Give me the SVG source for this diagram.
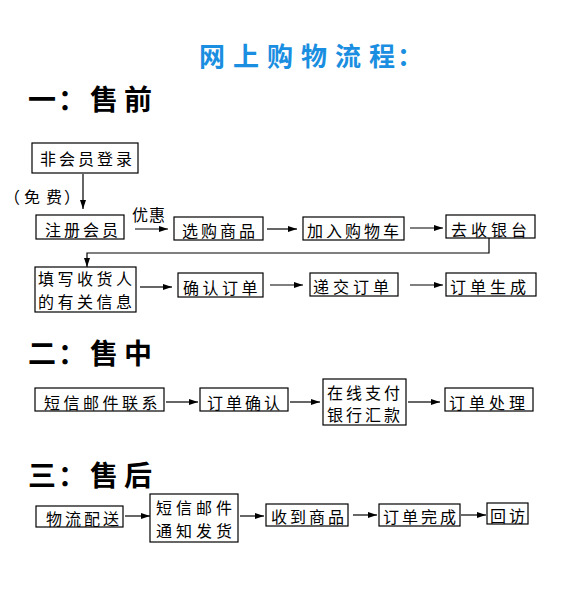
<svg xmlns="http://www.w3.org/2000/svg" width="565" height="592" viewBox="0 0 565 592">
<style>
.bg{fill:#fff}
.box{fill:none;stroke:#000;stroke-width:1.2}
.t{font-family:"Noto Sans CJK SC","Noto Sans",sans-serif;font-size:16px;fill:#000;letter-spacing:3px}
.h{font-family:"Noto Sans CJK SC","Noto Sans",sans-serif;font-size:28px;font-weight:bold;fill:#000}
.title{font-family:"Noto Sans CJK SC","Noto Sans",sans-serif;font-size:26px;font-weight:bold;fill:#1a8ee0}
.c{fill:none;stroke:#000;stroke-width:1.2}
</style>
<defs>
<marker id="ah" markerWidth="9" markerHeight="6" refX="9" refY="3" orient="auto" markerUnits="userSpaceOnUse">
<path d="M0,0 L9,3 L0,6 z" fill="#000"/>
</marker>
</defs>
<rect class="bg" x="0" y="0" width="565" height="592"/>
<g id="titles">
<text class="title" x="199 233 267 301 335 369 397" y="66">网上购物流程：</text>
<text class="h" x="28 58 90 124" y="110">一：售前</text>
<text class="h" x="28 58 90 124" y="364">二：售中</text>
<text class="h" x="28 58 90 124" y="486">三：售后</text>
</g>
<g id="connectors">
<line class="c" x1="83" y1="174" x2="83" y2="209" marker-end="url(#ah)"/>
<line class="c" x1="135" y1="229" x2="168" y2="229" marker-end="url(#ah)"/>
<line class="c" x1="267" y1="229" x2="297" y2="229" marker-end="url(#ah)"/>
<line class="c" x1="410" y1="228" x2="443" y2="228" marker-end="url(#ah)"/>
<polyline class="c" points="489,238 489,253 87,253 87,267" marker-end="url(#ah)"/>
<line class="c" x1="140" y1="287" x2="172" y2="287" marker-end="url(#ah)"/>
<line class="c" x1="270" y1="285" x2="303" y2="285" marker-end="url(#ah)"/>
<line class="c" x1="410" y1="285" x2="443" y2="285" marker-end="url(#ah)"/>
<line class="c" x1="166" y1="402" x2="198" y2="402" marker-end="url(#ah)"/>
<line class="c" x1="290" y1="402" x2="320" y2="402" marker-end="url(#ah)"/>
<line class="c" x1="408" y1="402" x2="440" y2="402" marker-end="url(#ah)"/>
<line class="c" x1="125" y1="516" x2="150" y2="516" marker-end="url(#ah)"/>
<line class="c" x1="240" y1="516" x2="264" y2="516" marker-end="url(#ah)"/>
<line class="c" x1="353" y1="515" x2="377" y2="515" marker-end="url(#ah)"/>
<line class="c" x1="461" y1="515" x2="486" y2="515" marker-end="url(#ah)"/>
<text class="t" x="4 24 46 64" y="203" style="letter-spacing:0">（免费）</text>
<text class="t" x="132" y="221" style="letter-spacing:1px">优惠</text>
</g>
<g id="n1"><rect class="box" x="32" y="143" width="106" height="30"/><text class="t" x="40" y="165">非会员登录</text></g>
<g id="n2"><rect class="box" x="36" y="215" width="88" height="24"/><text class="t" x="45" y="236">注册会员</text></g>
<g id="n3"><rect class="box" x="174" y="217" width="89" height="23"/><text class="t" x="182" y="237">选购商品</text></g>
<g id="n4"><rect class="box" x="303" y="217" width="101" height="23"/><text class="t" x="307" y="237">加入购物车</text></g>
<g id="n5"><rect class="box" x="446" y="215" width="89" height="23"/><text class="t" x="451" y="236" style="letter-spacing:4px">去收银台</text></g>
<g id="n6"><rect class="box" x="35" y="267" width="101" height="45"/><text class="t" x="38" y="285" style="letter-spacing:3.5px">填写收货人</text><text class="t" x="38" y="308" style="letter-spacing:3.5px">的有关信息</text></g>
<g id="n7"><rect class="box" x="178" y="273" width="85" height="24"/><text class="t" x="183" y="294" style="letter-spacing:3.5px">确认订单</text></g>
<g id="n8"><rect class="box" x="310" y="273" width="88" height="23"/><text class="t" x="313" y="293" style="letter-spacing:4px">递交订单</text></g>
<g id="n9"><rect class="box" x="446" y="273" width="90" height="23"/><text class="t" x="450" y="293" style="letter-spacing:4px">订单生成</text></g>
<g id="n10"><rect class="box" x="35" y="388" width="129" height="23"/><text class="t" x="44" y="409" style="letter-spacing:3.5px">短信邮件联系</text></g>
<g id="n11"><rect class="box" x="200" y="388" width="88" height="23"/><text class="t" x="207" y="409">订单确认</text></g>
<g id="n12"><rect class="box" x="323" y="379" width="83" height="46"/><text class="t" x="327" y="399">在线支付</text><text class="t" x="327" y="421">银行汇款</text></g>
<g id="n13"><rect class="box" x="445" y="388" width="88" height="23"/><text class="t" x="449" y="409" style="letter-spacing:4px">订单处理</text></g>
<g id="n14"><rect class="box" x="36" y="506" width="87" height="21"/><text class="t" x="46" y="525">物流配送</text></g>
<g id="n15"><rect class="box" x="150" y="494" width="88" height="48"/><text class="t" x="156" y="514" style="letter-spacing:4px">短信邮件</text><text class="t" x="156" y="537" style="letter-spacing:4px">通知发货</text></g>
<g id="n16"><rect class="box" x="266" y="504" width="82" height="22"/><text class="t" x="271" y="523">收到商品</text></g>
<g id="n17"><rect class="box" x="379" y="504" width="81" height="22"/><text class="t" x="383" y="523">订单完成</text></g>
<g id="n18"><rect class="box" x="487" y="503" width="41" height="21"/><text class="t" x="490" y="522">回访</text></g>
</svg>
